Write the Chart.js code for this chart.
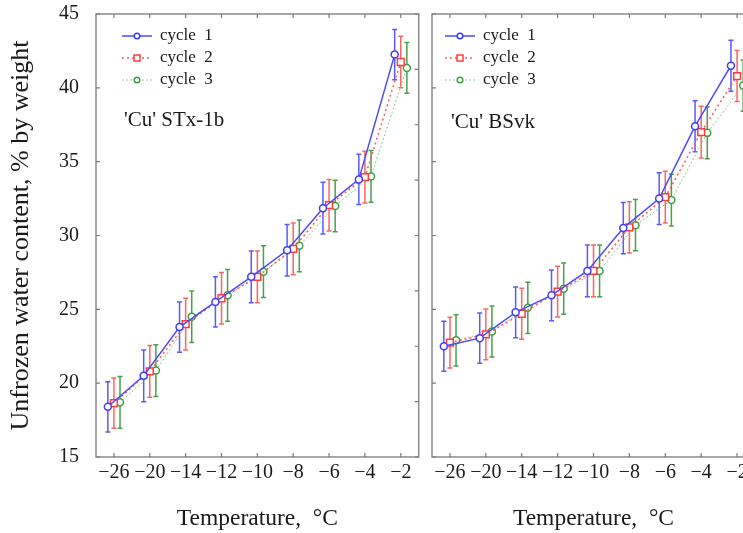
<!DOCTYPE html>
<html><head><meta charset="utf-8">
<script src="https://cdn.jsdelivr.net/npm/chart.js@4/dist/chart.umd.min.js"></script>
<style>
html,body{margin:0;padding:0;background:#fff;overflow:hidden;width:743px;height:533px;position:relative;}
#c1{position:absolute;left:0;top:0;}
#c2{position:absolute;left:425px;top:0;}
</style></head><body>
<canvas id="c1" width="425" height="533"></canvas>
<canvas id="c2" width="340" height="533"></canvas>
<script>
// ---- data ----
const temperatures = ['\u221226','\u221220','\u221214','\u221212','\u221210','\u22128','\u22126','\u22124','\u22122'];
const seriesNames = ['cycle  1','cycle  2','cycle  3'];

// 'Cu' STx-1b
const stx_cycle1 = [18.4, 20.5, 23.8, 25.5, 27.2, 29.0, 31.85, 33.8, 42.25];
const stx_cycle2 = [18.65, 20.8, 24.0, 25.75, 27.2, 29.1, 32.05, 33.95, 41.75];
const stx_cycle3 = [18.7, 20.85, 24.5, 25.95, 27.55, 29.3, 32.0, 34.0, 41.35];
const stx_err1 = [1.7, 1.75, 1.7, 1.7, 1.75, 1.75, 1.75, 1.7, 1.7];
const stx_err2 = [1.7, 1.75, 1.75, 1.75, 1.75, 1.75, 1.75, 1.75, 1.75];
const stx_err3 = [1.75, 1.75, 1.75, 1.75, 1.75, 1.75, 1.75, 1.75, 1.72];

// 'Cu' BSvk
const bsvk_cycle1 = [22.5, 23.05, 24.8, 25.95, 27.6, 30.5, 32.5, 37.4, 41.5];
const bsvk_cycle2 = [22.75, 23.3, 24.7, 26.2, 27.6, 30.55, 32.6, 37.0, 40.8];
const bsvk_cycle3 = [22.9, 23.5, 25.1, 26.4, 27.6, 30.7, 32.4, 36.95, 40.15];
const bsvk_err1 = [1.7, 1.7, 1.72, 1.72, 1.75, 1.73, 1.75, 1.72, 1.73];
const bsvk_err2 = [1.72, 1.72, 1.72, 1.72, 1.75, 1.73, 1.75, 1.75, 1.73];
const bsvk_err3 = [1.73, 1.73, 1.73, 1.73, 1.75, 1.73, 1.75, 1.75, 1.73];

const yTickValues = [15, 20, 25, 30, 35, 40, 45];

// ---- styles ----
const SERIF = '"Liberation Serif", "Times New Roman", serif';
const styles = [
  {line:'#4a4aff', point:'#3c3cff', err:'#5a5aff', dash:[], width:1.5, pstyle:'circle', r:3.5, off:-0.17},
  {line:'#ff5a5a', point:'#ff3c3c', err:'#ff6464', dash:[2,3], width:1.5, pstyle:'rect', r:4.8, off:0},
  {line:'#8cc88c', point:'#3f9f3f', err:'#4aa04a', dash:[2,2], width:1, pstyle:'circle', r:3.5, off:0.17}
];

function makeDatasets(values, errors){
  return values.map((arr, s) => ({
    label: seriesNames[s],
    data: arr.map((v, i) => ({x: i + styles[s].off, y: v})),
    errors: errors[s],
    borderColor: styles[s].line,
    borderWidth: styles[s].width,
    borderDash: styles[s].dash,
    pointStyle: styles[s].pstyle,
    pointRadius: styles[s].r,
    pointBorderColor: styles[s].point,
    pointBackgroundColor: '#ffffff',
    pointBorderWidth: 1.5,
    errColor: styles[s].err,
    legendPoint: styles[s].point,
    fill: false,
    tension: 0
  }));
}

const errorBars = {
  id: 'errorBars',
  beforeDatasetsDraw(chart){
    const ctx = chart.ctx, y = chart.scales.y;
    ctx.save();
    chart.data.datasets.forEach((ds, di) => {
      const meta = chart.getDatasetMeta(di);
      ctx.strokeStyle = ds.errColor; ctx.lineWidth = 1.5; ctx.setLineDash([]);
      meta.data.forEach((pt, i) => {
        const v = ds.data[i].y, e = ds.errors[i];
        const t = y.getPixelForValue(v + e), b = y.getPixelForValue(v - e);
        ctx.beginPath();
        ctx.moveTo(pt.x, t); ctx.lineTo(pt.x, b);
        ctx.moveTo(pt.x - 2.5, t); ctx.lineTo(pt.x + 2.5, t);
        ctx.moveTo(pt.x - 2.5, b); ctx.lineTo(pt.x + 2.5, b);
        ctx.stroke();
      });
    });
    ctx.restore();
  }
};

const frame = {
  id: 'frame',
  afterDraw(chart, args, opts){
    const ctx = chart.ctx, a = chart.chartArea, xs = chart.scales.x, ys = chart.scales.y, y2 = chart.scales.y2;
    ctx.save();
    ctx.strokeStyle = '#8a8a8a'; ctx.lineWidth = 1.5; ctx.setLineDash([]);
    ctx.strokeRect(a.left, a.top, a.right - a.left, a.bottom - a.top);
    ctx.strokeStyle = '#7a7a7a'; ctx.lineWidth = 1.2;
    ctx.beginPath();
    xs.ticks.forEach(t => {
      const px = xs.getPixelForValue(t.value);
      ctx.moveTo(px, a.bottom); ctx.lineTo(px, a.bottom - 4);
      ctx.moveTo(px, a.top); ctx.lineTo(px, a.top + 4);
    });
    yTickValues.forEach(v => {
      const py = ys.getPixelForValue(v);
      ctx.moveTo(a.left, py); ctx.lineTo(a.left + 4, py);
    });
    y2.ticks.forEach(t => {
      const py = y2.getPixelForValue(t.value);
      ctx.moveTo(a.right, py); ctx.lineTo(a.right - 4, py);
    });
    ctx.stroke();
    // legend
    ctx.font = '17px ' + SERIF; ctx.fillStyle = '#1a1a1a';
    ctx.textBaseline = 'middle'; ctx.textAlign = 'left';
    chart.data.datasets.forEach((ds, i) => {
      const ly = a.top + opts.legY + i * 22;
      const lx = a.left + opts.legX;
      ctx.strokeStyle = ds.borderColor; ctx.lineWidth = ds.borderWidth; ctx.setLineDash(ds.borderDash);
      ctx.beginPath(); ctx.moveTo(lx, ly); ctx.lineTo(lx + 30, ly); ctx.stroke();
      ctx.setLineDash([]); ctx.strokeStyle = ds.legendPoint; ctx.lineWidth = 1.5; ctx.fillStyle = '#fff';
      ctx.beginPath();
      if (ds.pointStyle === 'rect') { ctx.rect(lx + 15 - 3, ly - 3, 6, 6); }
      else { ctx.arc(lx + 15, ly, 2.8, 0, Math.PI * 2); }
      ctx.fill(); ctx.stroke();
      ctx.fillStyle = '#1a1a1a';
      ctx.fillText(ds.label, lx + 38, ly);
    });
    ctx.font = '21px ' + SERIF;
    ctx.fillText(opts.note, a.left + opts.noteX, a.top + opts.noteY);
    ctx.restore();
  }
};

function makeChart(id, values, errors, cfg){
  return new Chart(document.getElementById(id), {
    type: 'line',
    data: { datasets: makeDatasets(values, errors) },
    options: {
      responsive: false, animation: false, devicePixelRatio: 1,
      layout: { padding: 0 },
      plugins: { legend: {display: false}, tooltip: {enabled: false}, frame: cfg.frame },
      scales: {
        x: {
          type: 'linear', position: 'bottom', min: -0.5, max: 8.5,
          afterBuildTicks: s => { s.ticks = temperatures.map((_, i) => ({value: i})); },
          ticks: { callback: (v) => temperatures[v], padding: 4, color: '#1a1a1a',
                   font: {family: SERIF, size: 20}, maxRotation: 0, autoSkip: false },
          grid: { display: false, drawTicks: false }, border: { display: false },
          title: { display: true, text: 'Temperature,  \u00B0C', color: '#1a1a1a',
                   font: {family: SERIF, size: 23.5}, padding: {top: 0, bottom: 0} },
          afterFit: s => { s.height = 76; s.paddingLeft = 0; s.paddingRight = 0; }
        },
        x2: {
          type: 'linear', position: 'top', min: -0.5, max: 8.5,
          ticks: { display: false }, grid: { display: false, drawTicks: false }, border: { display: false },
          afterFit: s => { s.height = 14; s.paddingLeft = 0; s.paddingRight = 0; }
        },
        y: {
          type: 'linear', position: 'left', min: 15, max: 45,
          afterBuildTicks: s => { s.ticks = yTickValues.map(v => ({value: v})); },
          ticks: { display: cfg.yLabels, padding: 17, color: '#1a1a1a', font: {family: SERIF, size: 20} },
          grid: { display: false, drawTicks: false }, border: { display: false },
          title: { display: cfg.yLabels, text: 'Unfrozen water content, % by weight', color: '#1a1a1a',
                   font: {family: SERIF, size: 26}, padding: {top: 6, bottom: 0} },
          afterFit: s => { s.width = cfg.yWidth; s.paddingTop = 0; s.paddingBottom = 0; }
        },
        y2: {
          type: 'linear', position: 'right', min: 0, max: 8,
          ticks: { display: false, stepSize: 1 }, grid: { display: false, drawTicks: false }, border: { display: false },
          afterFit: s => { s.width = cfg.y2Width; s.paddingTop = 0; s.paddingBottom = 0; }
        }
      }
    },
    plugins: [errorBars, frame]
  });
}

makeChart('c1', [stx_cycle1, stx_cycle2, stx_cycle3], [stx_err1, stx_err2, stx_err3],
  { yLabels: true, yWidth: 96, y2Width: 6,
    frame: { legX: 26, legY: 22, noteX: 28, noteY: 106, note: "'Cu' STx-1b" } });
makeChart('c2', [bsvk_cycle1, bsvk_cycle2, bsvk_cycle3], [bsvk_err1, bsvk_err2, bsvk_err3],
  { yLabels: false, yWidth: 7, y2Width: 10,
    frame: { legX: 13, legY: 22, noteX: 19, noteY: 108, note: "'Cu' BSvk" } });
</script>
</body></html>
